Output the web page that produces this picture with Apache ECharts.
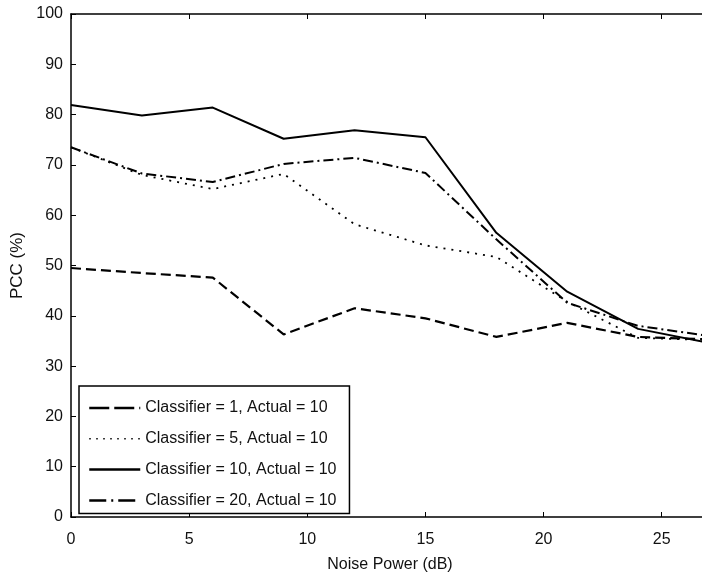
<!DOCTYPE html>
<html>
<head>
<meta charset="utf-8">
<script src="https://cdn.jsdelivr.net/npm/echarts@6/dist/echarts.min.js"></script>
<style>
  html, body { margin: 0; padding: 0; background: #fff; }
  #chart { width: 702px; height: 578px; }
</style>
</head>
<body>
<div id="chart"></div>
<script>
// Noise power levels (dB)
const noisePower = [0, 3, 6, 9, 12, 15, 18, 21, 24, 27];

// Probability of correct classification (%) per classifier setting
const pccClassifier1  = [49.5, 48.5, 47.6, 36.3, 41.5, 39.5, 35.8, 38.6, 35.8, 35.3];
const pccClassifier5  = [73.5, 68.0, 65.2, 68.2, 58.2, 54.0, 51.7, 42.8, 35.6, 35.2];
const pccClassifier10 = [81.9, 79.8, 81.4, 75.2, 76.9, 75.5, 56.5, 44.8, 37.4, 34.6];
const pccClassifier20 = [73.5, 68.3, 66.6, 70.2, 71.4, 68.4, 55.2, 42.6, 38.0, 36.0];

const seriesNames = [
  'Classifier = 1, Actual = 10',
  'Classifier = 5, Actual = 10',
  'Classifier = 10, Actual = 10',
  'Classifier = 20, Actual = 10'
];

const xTicks = [0, 5, 10, 15, 20, 25];
const yTicks = [0, 10, 20, 30, 40, 50, 60, 70, 80, 90, 100];

const FONT = '"Liberation Sans", Arial, sans-serif';

// dash patterns: plot lines and the longer legend samples
const plotDash   = [[10, 5], [2, 6], 'solid', [10, 4, 2, 4]];
const legendDash = [[20, 5], [1.5, 5.5], 'solid', [17, 5, 2, 5]];

function pairs(ys) { return noisePower.map((x, i) => [x, ys[i]]); }

const chart = echarts.init(document.getElementById('chart'), null, { renderer: 'canvas' });

const axisCommon = {
  axisLine: { show: true, onZero: false, lineStyle: { color: '#000', width: 1.5 } },
  axisTick: { show: true, inside: true, length: 5, lineStyle: { color: '#000', width: 1 } },
  splitLine: { show: false }
};

function lineSeries(name, ys, type, width) {
  return {
    name: name,
    type: 'line',
    data: pairs(ys),
    symbol: 'none',
    showSymbol: false,
    lineStyle: { color: '#000', width: width, type: type },
    itemStyle: { color: '#000' },
    animation: false
  };
}

chart.setOption({
  backgroundColor: '#fff',
  animation: false,
  // the plot box runs past the right edge of the canvas
  grid: { left: 71, top: 14, width: 638, height: 503, containLabel: false, outerBoundsMode: 'none' },
  xAxis: [
    Object.assign({
      type: 'value', min: xTicks[0], max: 27, interval: 5, position: 'bottom',
      name: 'Noise Power (dB)', nameLocation: 'middle', nameGap: 40,
      nameTextStyle: { fontFamily: FONT, fontSize: 16, color: '#111' },
      axisLabel: {
        margin: 15, fontFamily: FONT, fontSize: 16, color: '#111',
        formatter: v => (xTicks.indexOf(v) >= 0 ? String(v) : '')
      }
    }, axisCommon),
    Object.assign({
      type: 'value', min: xTicks[0], max: 27, interval: 5, position: 'top',
      axisLabel: { show: false }
    }, axisCommon)
  ],
  yAxis: [
    Object.assign({
      type: 'value', min: yTicks[0], max: yTicks[yTicks.length - 1], interval: 10,
      name: 'PCC (%)', nameLocation: 'middle', nameGap: 44,
      nameTextStyle: { fontFamily: FONT, fontSize: 17, color: '#111' },
      axisLabel: { margin: 8, fontFamily: FONT, fontSize: 16, color: '#111' }
    }, axisCommon)
  ],
  legend: {
    show: true,
    orient: 'vertical',
    left: 79, top: 386,
    backgroundColor: '#fff',
    borderColor: '#000',
    borderWidth: 1.5,
    borderRadius: 0,
    padding: [14, 13, 5, 9],
    itemWidth: 51,
    itemHeight: 14,
    itemGap: 14.8,
    selectedMode: false,
    itemStyle: { color: 'rgba(0,0,0,0)', borderWidth: 0 },
    textStyle: { fontFamily: FONT, fontSize: 16, color: '#111' },
    data: seriesNames.map((n, i) => ({
      name: n,
      itemStyle: { color: 'rgba(0,0,0,0)', borderWidth: 0 },
      lineStyle: { type: legendDash[i], width: i === 1 ? 1.5 : 2.5, color: '#000' }
    }))
  },
  series: [
    lineSeries(seriesNames[0], pccClassifier1, plotDash[0], 2.2),
    lineSeries(seriesNames[1], pccClassifier5, plotDash[1], 1.8),
    lineSeries(seriesNames[2], pccClassifier10, plotDash[2], 2),
    lineSeries(seriesNames[3], pccClassifier20, plotDash[3], 2)
  ]
});
</script>
</body>
</html>
